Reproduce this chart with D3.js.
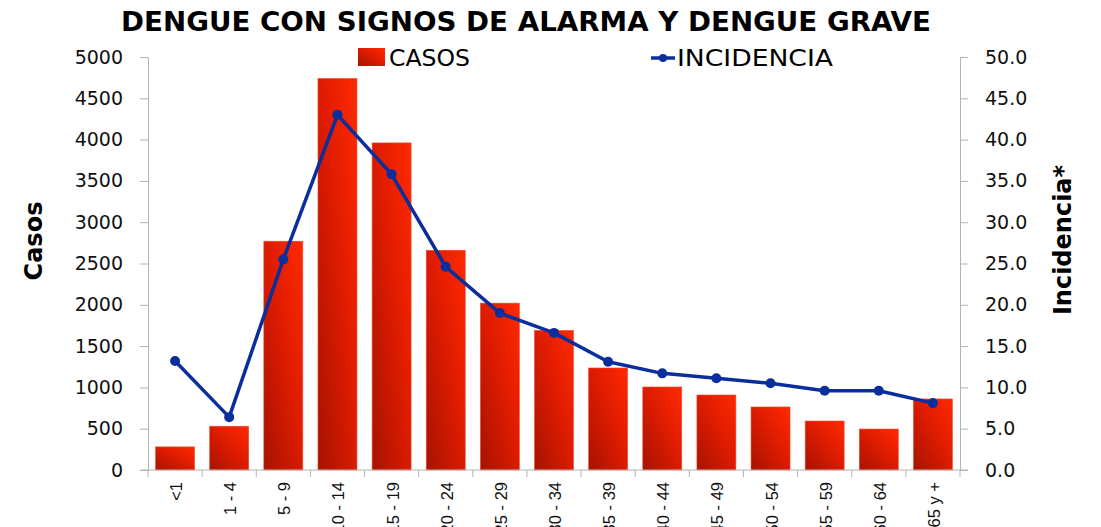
<!DOCTYPE html>
<html>
<head>
<meta charset="utf-8">
<script src="https://cdn.jsdelivr.net/npm/d3@7"></script>
<style>
  body { margin: 0; background: #fff; }
  svg { display: block; font-family: "DejaVu Sans", "Open Sans", sans-serif; }
  .axis path, .axis line { stroke: #b3b3b3; }
  .axis text { fill: #111; font-family: "DejaVu Sans", sans-serif; }
</style>
</head>
<body>
<svg id="chart" width="1101" height="527"></svg>
<script>
// age groups
const categories = ["<1", "1 - 4", "5 - 9", "10 - 14", "15 - 19", "20 - 24", "25 - 29", "30 - 34",
  "35 - 39", "40 - 44", "45 - 49", "50 - 54", "55 - 59", "60 - 64", "65 y +"];
// cases per group (bars)
const casos = [280, 530, 2770, 4740, 3960, 2660, 2020, 1690, 1235, 1005, 908, 763, 593, 496, 860];
// incidence (line)
const incidencia = [13.2, 6.4, 25.5, 43.0, 35.8, 24.6, 19.0, 16.6, 13.1, 11.7, 11.1, 10.5, 9.6, 9.6, 8.1];
const casosTicks = [0, 500, 1000, 1500, 2000, 2500, 3000, 3500, 4000, 4500, 5000];
const incTicks = [0, 5, 10, 15, 20, 25, 30, 35, 40, 45, 50];

const svg = d3.select("#chart");
const margin = { top: 57, right: 141, bottom: 57, left: 148 };
const width = 1101 - margin.left - margin.right;
const height = 527 - margin.top - margin.bottom;

// gradient for bars
const defs = svg.append("defs");
const grad = defs.append("linearGradient")
  .attr("id", "barGrad")
  .attr("x1", "0%").attr("y1", "100%")
  .attr("x2", "100%").attr("y2", "0%");
grad.append("stop").attr("offset", "0%").attr("stop-color", "#a51300");
grad.append("stop").attr("offset", "55%").attr("stop-color", "#e01c00");
grad.append("stop").attr("offset", "100%").attr("stop-color", "#ff2a00");

const g = svg.append("g").attr("transform", `translate(${margin.left},${margin.top})`);

const x = d3.scaleBand().domain(categories).range([0, width]).paddingInner(0.28).paddingOuter(0.14);
const yL = d3.scaleLinear().domain([0, 5000]).range([height, 0]);
const yR = d3.scaleLinear().domain([0, 50]).range([height, 0]);

// left axis
g.append("g")
  .attr("class", "axis")
  .call(d3.axisLeft(yL).tickValues(casosTicks).tickFormat(d3.format("d")).tickSize(8).tickPadding(17).tickSizeOuter(0))
  .call(a => a.attr("font-family", null))
  .call(a => a.selectAll("text").style("font-size", "19px"));

// right axis
g.append("g")
  .attr("class", "axis")
  .attr("transform", `translate(${width},0)`)
  .call(d3.axisRight(yR).tickValues(incTicks).tickFormat(d3.format(".1f")).tickSize(8).tickPadding(17).tickSizeOuter(0))
  .call(a => a.attr("font-family", null))
  .call(a => a.selectAll("text").style("font-size", "19px"));

// bars
g.selectAll("rect.bar")
  .data(casos)
  .join("rect")
  .attr("class", "bar")
  .attr("x", (d, i) => x(categories[i]))
  .attr("width", x.bandwidth())
  .attr("y", d => yL(d))
  .attr("height", d => height - yL(d))
  .attr("fill", "url(#barGrad)")
  .attr("stroke", "#f04a30")
  .attr("stroke-width", 0.6);

// bottom axis with ticks at band boundaries
const xAxisG = g.append("g")
  .attr("class", "axis")
  .attr("transform", `translate(0,${height})`);
xAxisG.append("line")
  .attr("x1", -8).attr("x2", width + 8)
  .attr("y1", 0).attr("y2", 0)
  .attr("stroke", "#b3b3b3");
const bounds = d3.range(categories.length + 1).map(i => i * width / categories.length);
xAxisG.selectAll("line.tick")
  .data(bounds)
  .join("line")
  .attr("class", "tick")
  .attr("x1", d => d).attr("x2", d => d)
  .attr("y1", 0).attr("y2", 7)
  .attr("stroke", "#b3b3b3");
xAxisG.selectAll("text.cat")
  .data(categories)
  .join("text")
  .attr("class", "cat")
  .attr("transform", d => `translate(${x(d) + x.bandwidth() / 2 + 7},12) rotate(-90)`)
  .attr("text-anchor", "end")
  .style("font-size", "16.5px")
  .style("font-family", "'Liberation Sans', Arial, sans-serif")
  .attr("fill", "#111")
  .text(d => d);

// incidence line
const line = d3.line()
  .x((d, i) => x(categories[i]) + x.bandwidth() / 2)
  .y(d => yR(d));
g.append("path")
  .datum(incidencia)
  .attr("d", line)
  .attr("fill", "none")
  .attr("stroke", "#0a2f9c")
  .attr("stroke-width", 3.5)
  .attr("stroke-linejoin", "round");
g.selectAll("circle.pt")
  .data(incidencia)
  .join("circle")
  .attr("class", "pt")
  .attr("cx", (d, i) => x(categories[i]) + x.bandwidth() / 2)
  .attr("cy", d => yR(d))
  .attr("r", 5)
  .attr("fill", "#0a2f9c");

// title
svg.append("text")
  .attr("x", 526).attr("y", 31)
  .attr("text-anchor", "middle")
  .attr("textLength", 810)
  .attr("lengthAdjust", "spacingAndGlyphs")
  .style("font-size", "27px")
  .style("font-weight", "bold")
  .attr("fill", "#000")
  .text("DENGUE CON SIGNOS DE ALARMA Y DENGUE GRAVE");

// axis titles
svg.append("text")
  .attr("transform", "translate(42,241) rotate(-90)")
  .attr("text-anchor", "middle")
  .style("font-size", "24px")
  .style("font-weight", "bold")
  .text("Casos");
svg.append("text")
  .attr("transform", "translate(1071,240) rotate(-90)")
  .attr("text-anchor", "middle")
  .style("font-size", "24px")
  .style("font-weight", "bold")
  .text("Incidencia*");

// legend
const leg = svg.append("g");
leg.append("rect")
  .attr("x", 358).attr("y", 48).attr("width", 27).attr("height", 18)
  .attr("fill", "url(#barGrad)");
leg.append("text")
  .attr("x", 389).attr("y", 66)
  .attr("textLength", 81)
  .attr("lengthAdjust", "spacingAndGlyphs")
  .style("font-size", "23px")
  .text("CASOS");
leg.append("line")
  .attr("x1", 651).attr("x2", 675).attr("y1", 58).attr("y2", 58)
  .attr("stroke", "#0a2f9c").attr("stroke-width", 3.5);
leg.append("circle")
  .attr("cx", 663).attr("cy", 58).attr("r", 4)
  .attr("fill", "#0a2f9c");
leg.append("text")
  .attr("x", 677).attr("y", 66)
  .attr("textLength", 156)
  .attr("lengthAdjust", "spacingAndGlyphs")
  .style("font-size", "23px")
  .text("INCIDENCIA");
</script>
</body>
</html>
